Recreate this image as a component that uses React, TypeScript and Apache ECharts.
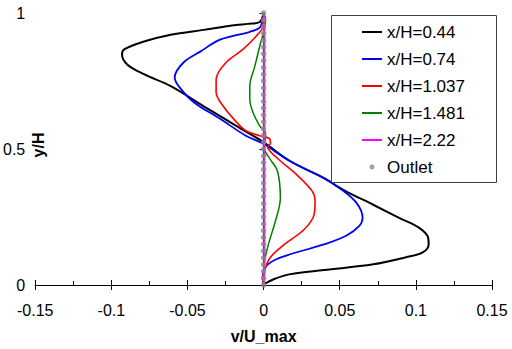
import React, { useEffect, useRef } from "react";
import * as echarts from "echarts";

const FONT = "'Liberation Sans', Arial, sans-serif";

const seriesNames = ["x/H=0.44", "x/H=0.74", "x/H=1.037", "x/H=1.481", "x/H=2.22"];
const seriesColors = ["#000000", "#0000ff", "#ff0000", "#008000", "#ff00ff"];
const seriesWidths = [2, 1.8, 1.6, 1.5, 1.8];

const xTicks = { min: -0.15, max: 0.15, interval: 0.05 };
const yTicks = { min: 0, max: 1, interval: 0.5 };

// [v/U_max, y/H]
const d044: number[][] = [
  [0, 1.0], [-0.0026, 0.967], [-0.0104, 0.96], [-0.018, 0.956], [-0.0396, 0.938],
  [-0.061, 0.92], [-0.0786, 0.895], [-0.0916, 0.866], [-0.093, 0.847], [-0.0896, 0.811],
  [-0.0786, 0.775], [-0.061, 0.731], [-0.0396, 0.658], [-0.018, 0.585], [-0.0006, 0.527],
  [0.0175, 0.455], [0.0396, 0.393], [0.0526, 0.349], [0.072, 0.295], [0.089, 0.247],
  [0.102, 0.211], [0.108, 0.175], [0.1084, 0.149], [0.1045, 0.12], [0.0935, 0.102],
  [0.072, 0.076], [0.0396, 0.055], [0.0175, 0.04], [0.007, 0.022], [0.0006, 0.004], [0, 0],
];
const d074: number[][] = [
  [0, 1], [-0.0006, 0.975], [-0.0026, 0.946], [-0.009, 0.931], [-0.0286, 0.902],
  [-0.0416, 0.858], [-0.0526, 0.818], [-0.0584, 0.764], [-0.0558, 0.731], [-0.0461, 0.673],
  [-0.0286, 0.611], [-0.0117, 0.549], [-0.0006, 0.52], [0.0175, 0.455], [0.0396, 0.393],
  [0.05, 0.356], [0.061, 0.302], [0.065, 0.247], [0.063, 0.218], [0.0545, 0.182],
  [0.0396, 0.149], [0.0175, 0.113], [0.007, 0.091], [0.0013, 0.066], [-0.0006, 0.029], [0, 0],
];
const d1037: number[][] = [
  [0, 1], [-0.0006, 0.949], [-0.0052, 0.913], [-0.0136, 0.866], [-0.0247, 0.818],
  [-0.0312, 0.756], [-0.0312, 0.709], [-0.0266, 0.658], [-0.018, 0.6], [-0.0117, 0.567],
  [-0.0026, 0.549], [0.0039, 0.538], [0.0045, 0.52], [0.0026, 0.509], [0.0091, 0.466],
  [0.022, 0.404], [0.0318, 0.346], [0.0338, 0.309], [0.0331, 0.258], [0.0266, 0.204],
  [0.0136, 0.149], [0.0045, 0.102], [0.0006, 0.055], [-0.0006, 0.018], [0, 0],
];
const d1481: number[][] = [
  [0, 1], [0.0013, 0.975], [-0.0026, 0.877], [-0.0058, 0.804], [-0.0091, 0.731],
  [-0.0091, 0.684], [-0.0071, 0.636], [-0.0026, 0.585], [0.0013, 0.556], [0.0006, 0.502],
  [0.0039, 0.466], [0.0091, 0.418], [0.011, 0.32], [0.0078, 0.236], [0.0026, 0.138],
  [0, 0.055], [0, 0],
];
const d222: number[][] = [
  [0, 1], [0.0005, 0.95], [0.0005, 0.75], [0.0005, 0.5], [0.0005, 0.25], [0.0005, 0.05], [0, 0],
];
const outletY: number[] = [
  0, 0.025, 0.05, 0.075, 0.1, 0.125, 0.15, 0.175, 0.2, 0.225, 0.25, 0.275, 0.3, 0.325,
  0.35, 0.375, 0.4, 0.425, 0.45, 0.475, 0.5, 0.525, 0.55, 0.575, 0.6, 0.625, 0.65, 0.675,
  0.7, 0.725, 0.75, 0.775, 0.8, 0.825, 0.85, 0.875, 0.9, 0.925, 0.95, 0.975, 1,
];
const outletX: number[] = outletY.map(() => 0);

const curves = [d044, d074, d1037, d1481, d222];

const LINE_ICON = "path://M0,0L20,0L20,2L0,2Z";

export default function App() {
  const ref = useRef<HTMLDivElement>(null);
  useEffect(() => {
    if (!ref.current) return;
    const chart = echarts.init(ref.current, undefined, { renderer: "svg" });
    const axisLabelStyle = { color: "#000", fontSize: 16, fontFamily: FONT };
    const lineSeries = curves.map((data, i) => ({
      name: seriesNames[i],
      type: "line",
      data,
      symbol: "none",
      smooth: 0.35,
      xAxisIndex: 0,
      yAxisIndex: 0,
      lineStyle: { color: seriesColors[i], width: seriesWidths[i] },
      itemStyle: { color: seriesColors[i] },
      z: 2 + i,
    }));
    chart.setOption({
      animation: false,
      backgroundColor: "#fff",
      textStyle: { fontFamily: FONT },
      grid: { left: 30, right: 20, top: 13, bottom: 61, containLabel: false },
      xAxis: [
        {
          type: "value",
          min: xTicks.min,
          max: xTicks.max,
          interval: xTicks.interval,
          position: "bottom",
          name: "v/U_max",
          nameLocation: "middle",
          nameGap: 43,
          nameTextStyle: { color: "#000", fontSize: 16, fontWeight: "bold", fontFamily: FONT },
          axisLine: { onZero: false, lineStyle: { color: "#000", width: 1 } },
          axisTick: { show: true, inside: true, length: 5, lineStyle: { color: "#000" } },
          minorTick: { show: true, splitNumber: 2, length: 4, lineStyle: { color: "#000" } },
          axisLabel: { ...axisLabelStyle, margin: 17 },
          splitLine: { show: false },
        },
        {
          type: "value",
          min: xTicks.min,
          max: xTicks.max,
          interval: xTicks.interval,
          position: "bottom",
          axisLine: { onZero: false, lineStyle: { color: "#000", width: 1 } },
          axisTick: { show: true, inside: false, length: 5, lineStyle: { color: "#000" } },
          axisLabel: { show: false },
          splitLine: { show: false },
        },
      ],
      yAxis: {
        type: "value",
        min: yTicks.min,
        max: yTicks.max,
        interval: yTicks.interval,
        axisLine: { show: true, onZero: true, onZeroAxisIndex: 0, lineStyle: { color: "#000", width: 1 } },
        axisTick: { show: true, length: 4, lineStyle: { color: "#000" } },
        axisLabel: { ...axisLabelStyle, margin: 10 },
        splitLine: { show: false },
      },
      legend: {
        orient: "vertical",
        left: 362,
        top: 23.5,
        padding: 0,
        itemWidth: 20,
        itemHeight: 5,
        itemGap: 10,
        symbolKeepAspect: true,
        textStyle: { color: "#000", fontSize: 17, lineHeight: 17, fontFamily: FONT, padding: [0, 0, 0, 0] },
        data: [
          ...seriesNames.map((n) => ({ name: n, icon: LINE_ICON })),
          { name: "Outlet", icon: "circle" },
        ],
        z: 10,
      },
      graphic: [
        {
          type: "rect",
          shape: { x: 331.5, y: 15.5, width: 165, height: 167 },
          style: { fill: "#fff", stroke: "#404040", lineWidth: 1 },
          z: 9,
          silent: true,
        },
        {
          type: "text",
          x: 38,
          y: 145,
          rotation: Math.PI / 2,
          style: {
            text: "y/H",
            fill: "#000",
            font: `bold 16px ${FONT}`,
            textAlign: "center",
            textVerticalAlign: "middle",
          },
          z: 10,
        },
      ],
      series: [
        ...lineSeries,
        {
          name: "Outlet",
          type: "scatter",
          xAxisIndex: 0,
          yAxisIndex: 0,
          data: outletY.map((y, i) => [outletX[i], y]),
          symbol: "circle",
          symbolSize: 5.5,
          itemStyle: { color: "#888888" },
          z: 8,
        },
      ],
    });
    return () => chart.dispose();
  }, []);
  return (
    <div
      ref={ref}
      style={{ position: "absolute", left: 0, top: 0, width: 512, height: 349 }}
    />
  );
}
